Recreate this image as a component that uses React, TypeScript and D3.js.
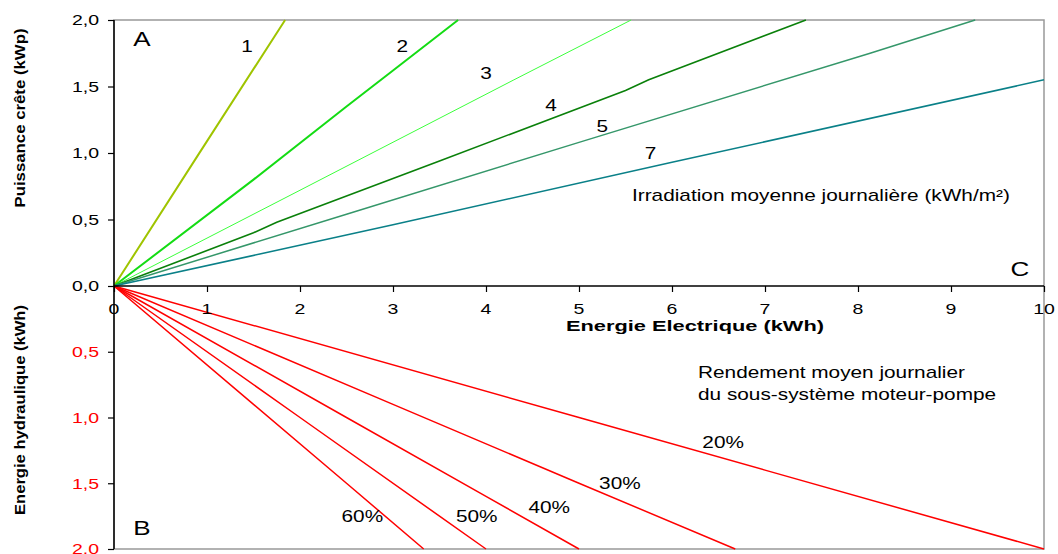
import { useEffect, useRef } from "react";
import * as d3 from "d3";

// upper panel: peak power (kWp) vs electrical energy (kWh), per daily irradiation
const irradLabels = ["1", "2", "3", "4", "5", "7"];
const irradColors = ["#9fc400", "#14dc14", "#3cff3c", "#0a800a", "#35976a", "#0a8088"];
const irradWidths = [2, 2, 1, 1.6, 1.5, 1.5];
const irr1: [number, number][] = [[0, 0], [0.9, 0.98], [1.84, 2.0]];
const irr2: [number, number][] = [[0, 0], [1.5, 0.8], [2.5, 1.35], [3.0, 1.62], [3.7, 2.0]];
const irr3: [number, number][] = [[0, 0], [2.0, 0.72], [4.3, 1.55], [5.56, 2.0]];
const irr4: [number, number][] = [[0, 0], [1.5, 0.4], [1.75, 0.48], [3.5, 0.94], [5.5, 1.47], [5.75, 1.55], [7.44, 2.0]];
const irr5: [number, number][] = [[0, 0], [2.5, 0.54], [5.0, 1.08], [8.13, 1.75], [9.26, 2.0]];
const irr7: [number, number][] = [[0, 0], [3.0, 0.46], [6.0, 0.93], [10.0, 1.55]];
const irradSeries = [irr1, irr2, irr3, irr4, irr5, irr7];
const irradLabelPos: [number, number][] = [[1.43, 1.8], [3.1, 1.8], [4.0, 1.6], [4.7, 1.36], [5.25, 1.2], [5.77, 1.0]];

// lower panel: hydraulic energy (kWh) vs electrical energy, per pump efficiency
const rendLabels = ["20%", "30%", "40%", "50%", "60%"];
const rend20: [number, number][] = [[0, 0], [5.0, 1.0], [7.0, 1.4], [10.0, 2.0]];
const rend30: [number, number][] = [[0, 0], [3.0, 0.9], [5.0, 1.5], [6.68, 2.0]];
const rend40: [number, number][] = [[0, 0], [2.5, 1.0], [4.0, 1.6], [5.0, 2.0]];
const rend50: [number, number][] = [[0, 0], [2.0, 1.0], [3.5, 1.75], [4.0, 2.0]];
const rend60: [number, number][] = [[0, 0], [1.5, 0.9], [2.5, 1.5], [3.33, 2.0]];
const rendSeries = [rend20, rend30, rend40, rend50, rend60];
const rendLabelPos: [number, number][] = [[6.55, 1.19], [5.44, 1.5], [4.68, 1.68], [3.9, 1.75], [2.67, 1.75]];

const xTicks = [0, 1, 2, 3, 4, 5, 6, 7, 8, 9, 10];
const yTicks = [0, 0.5, 1, 1.5, 2];

const FONT = "'Liberation Sans', Arial, sans-serif";
const STRETCH = 1.3;

export default function App() {
  const svgRef = useRef<SVGSVGElement>(null);

  useEffect(() => {
    if (!svgRef.current) return;
    const svg = d3.select(svgRef.current);
    svg.selectAll("*").remove();

    const x = d3.scaleLinear().domain([0, 10]).range([114, 1044]);
    const yTop = d3.scaleLinear().domain([0, 2]).range([286, 20]);
    const yBot = d3.scaleLinear().domain([0, 2]).range([286, 549]);
    const fmt = (d: number) => d.toFixed(1).replace(".", ",");

    // text helper, glyphs widened like the original
    const txt = (s: string, px: number, py: number, size: number, anchor = "start", color = "#000") =>
      svg
        .append("text")
        .attr("transform", `translate(${px},${py}) scale(${STRETCH},1)`)
        .attr("dy", "0.35em")
        .attr("text-anchor", anchor)
        .attr("fill", color)
        .style("font-family", FONT)
        .style("font-size", `${size}px`)
        .text(s);

    // frame
    svg
      .append("rect")
      .attr("x", x(0))
      .attr("y", yTop(2))
      .attr("width", x(10) - x(0))
      .attr("height", yBot(2) - yTop(2))
      .attr("fill", "none")
      .attr("stroke", "#999")
      .attr("stroke-width", 1.5);

    const lineTop = d3
      .line<[number, number]>()
      .x((d) => x(d[0]))
      .y((d) => yTop(d[1]));
    const lineBot = d3
      .line<[number, number]>()
      .x((d) => x(d[0]))
      .y((d) => yBot(d[1]));

    irradSeries.forEach((s, i) => {
      svg
        .append("path")
        .attr("d", lineTop(s))
        .attr("fill", "none")
        .attr("stroke", irradColors[i])
        .attr("stroke-width", irradWidths[i]);
    });

    rendSeries.forEach((s) => {
      svg
        .append("path")
        .attr("d", lineBot(s))
        .attr("fill", "none")
        .attr("stroke", "#ff0000")
        .attr("stroke-width", 1.5);
    });

    // axes (tick marks only, labels drawn below)
    const gx = svg
      .append("g")
      .attr("transform", `translate(0,${yTop(0)})`)
      .call(d3.axisBottom(x).tickValues(xTicks).tickSize(6).tickSizeOuter(0).tickFormat(() => ""));
    gx.select(".domain").remove();

    const gyTop = svg
      .append("g")
      .attr("transform", `translate(${x(0)},0)`)
      .call(d3.axisLeft(yTop).tickValues(yTicks).tickSize(6).tickSizeOuter(0).tickFormat(() => ""));
    gyTop.select(".domain").remove();

    const gyBot = svg
      .append("g")
      .attr("transform", `translate(${x(0)},0)`)
      .call(d3.axisLeft(yBot).tickValues(yTicks.slice(1)).tickSize(6).tickSizeOuter(0).tickFormat(() => ""));
    gyBot.select(".domain").remove();

    svg.selectAll("g.tick line").attr("stroke", "#000").attr("stroke-width", 1.2);

    svg
      .append("line")
      .attr("x1", x(0))
      .attr("x2", x(10))
      .attr("y1", yTop(0))
      .attr("y2", yTop(0))
      .attr("stroke", "#000")
      .attr("stroke-width", 1.5);
    svg
      .append("line")
      .attr("x1", x(0))
      .attr("x2", x(0))
      .attr("y1", yTop(2))
      .attr("y2", yBot(2))
      .attr("stroke", "#000")
      .attr("stroke-width", 1.5);

    // tick labels
    xTicks.forEach((t) => txt(String(t), x(t), yTop(0) + 23, 15, "middle"));
    yTicks.forEach((t) => txt(fmt(t), 99, yTop(t), 15, "end"));
    yTicks.slice(1).forEach((t) => txt(fmt(t), 99, yBot(t), 15, "end", "#ff0000"));

    // curve labels
    irradLabels.forEach((t, i) => {
      txt(t, x(irradLabelPos[i][0]), yTop(irradLabelPos[i][1]), 16, "middle");
    });
    rendLabels.forEach((t, i) => {
      txt(t, x(rendLabelPos[i][0]), yBot(rendLabelPos[i][1]), 16, "middle");
    });

    txt("A", 142, 39, 20, "middle");
    txt("B", 142, 528, 20, "middle");
    txt("C", 1020, 269, 20, "middle");
    txt("Irradiation moyenne journalière (kWh/m²)", 632, 195, 16);
    txt("Rendement moyen journalier", 698, 372, 16);
    txt("du sous-système moteur-pompe", 698, 394, 16);

    svg
      .append("text")
      .attr("x", 695)
      .attr("y", 326)
      .attr("dy", "0.35em")
      .attr("text-anchor", "middle")
      .style("font-family", FONT)
      .style("font-size", "15px")
      .style("font-weight", "bold")
      .attr("textLength", 258)
      .attr("lengthAdjust", "spacingAndGlyphs")
      .text("Energie Electrique (kWh)");

    svg
      .append("text")
      .attr("transform", "translate(20,118) rotate(-90)")
      .attr("text-anchor", "middle")
      .attr("dy", "0.35em")
      .style("font-family", FONT)
      .style("font-size", "14px")
      .style("font-weight", "bold")
      .attr("textLength", 179)
      .attr("lengthAdjust", "spacingAndGlyphs")
      .text("Puissance crête (kWp)");
    svg
      .append("text")
      .attr("transform", "translate(20,410) rotate(-90)")
      .attr("text-anchor", "middle")
      .attr("dy", "0.35em")
      .style("font-family", FONT)
      .style("font-size", "14px")
      .style("font-weight", "bold")
      .attr("textLength", 210)
      .attr("lengthAdjust", "spacingAndGlyphs")
      .text("Energie hydraulique (kWh)");
  }, []);

  return (
    <svg
      ref={svgRef}
      width={1058}
      height={554}
      style={{ position: "absolute", left: 0, top: 0, background: "#fff" }}
    ></svg>
  );
}
